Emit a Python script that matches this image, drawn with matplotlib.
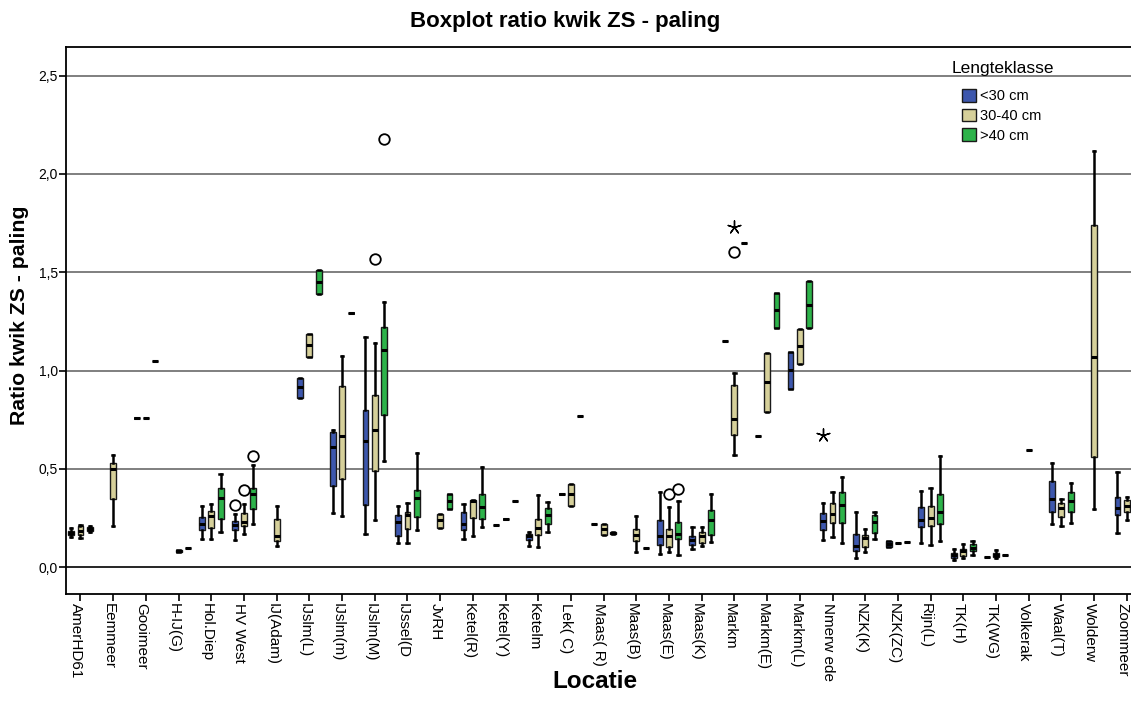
import numpy as np
import matplotlib
matplotlib.use("Agg")
import matplotlib.pyplot as plt
import matplotlib.transforms as mtransforms
from matplotlib.patches import Patch

plt.rcParams['font.family'] = ['Liberation Sans', 'DejaVu Sans']

locations = ["AmerHD61", "Eemmeer", "Gooimeer", "H-IJ(G)", "Hol.Diep", "HV West",
             "IJ(Adam)", "IJslm(L)", "IJslm(m)", "IJslm(M)", "IJssel(D", "JvRH",
             "Ketel(R)", "Ketel(Y)", "Ketelm", "Lek( C)", "Maas( R)", "Maas(B)",
             "Maas(E)", "Maas(K)", "Markm", "Markm(E)", "Markm(L)", "Nmerw ede",
             "NZK(K)", "NZK(ZC)", "Rijn(L)", "TK(H)", "TK(WG)", "Volkerak",
             "Waal(T)", "Wolderw", "Zoommeer"]
classes = ["<30 cm", "30-40 cm", ">40 cm"]
class_colors = ["#3d57ad", "#d6d09a", "#2db34a"]

N = np.nan
# length class < 30 cm
lt30_q1  = [.163, N, .757, N, .191, .188, N, .862, .415, .317, .159, N, .188, .217, .137, .374, .219, N, .115, .112, 1.149, .668, .906, .188, .084, .102, .203, .046, .054, N, .281, N, .266]
lt30_med = [.176, N, .757, N, .220, .214, N, .915, .613, .644, .229, N, .220, .217, .161, .374, .219, N, .158, .139, 1.149, .668, 1.002, .237, .110, .120, .239, .063, .054, N, .349, N, .301]
lt30_q3  = [.186, N, .757, N, .254, .235, N, .964, .688, .800, .264, N, .280, .217, .171, .374, .219, N, .240, .159, 1.149, .668, 1.096, .278, .169, .135, .307, .074, .054, N, .440, N, .357]
lt30_lo  = [.154, N, N, N, .144, .139, N, N, .276, .169, .125, N, .144, N, .107, N, N, N, .069, .093, N, N, N, .139, .049, N, .125, .039, N, N, .220, N, .176]
lt30_hi  = [.201, N, N, N, .313, .273, N, N, .696, 1.172, .312, N, .323, N, .179, N, N, N, .384, .206, N, N, N, .325, .283, N, .389, .093, N, N, .532, N, .486]

# length class 30-40 cm
mid_q1  = [.163, .349, .757, .080, .201, .210, .132, 1.069, .449, .488, .197, .201, .249, .244, .163, .312, .163, .132, .103, .122, .674, .790, 1.034, .225, .102, .125, .208, .056, .051, .598, .257, .561, .283]
mid_med = [.186, .498, .757, .085, .262, .230, .161, 1.129, .669, .696, .266, .239, .337, .244, .201, .371, .193, .166, .158, .161, .754, .942, 1.125, .269, .150, .125, .252, .081, .064, .598, .303, 1.071, .312]
mid_q3  = [.211, .529, .757, .088, .288, .275, .244, 1.186, .920, .874, .283, .272, .340, .244, .246, .423, .219, .195, .196, .181, .925, 1.091, 1.213, .328, .164, .125, .310, .092, .073, .598, .325, 1.740, .342]
mid_lo  = [.150, .208, N, N, .144, .171, .110, N, .261, .242, .125, N, .159, N, .105, N, N, .078, .076, .110, .571, N, N, .156, .079, N, .112, .049, .047, N, .211, .298, .240]
mid_hi  = [.213, .572, N, N, .323, .323, .313, N, 1.074, 1.140, .326, N, .340, N, .368, N, N, .259, .305, .206, .986, N, N, .381, .196, N, .405, .118, .086, N, .347, 2.118, .359]

# length class > 40 cm
gt40_q1  = [.186, N, 1.049, .097, .246, .295, N, 1.389, 1.294, .773, .256, .295, .244, .339, .220, .769, .168, .100, .144, .166, 1.650, 1.217, 1.217, .224, .176, .129, .222, .081, .064, N, .280, N, N]
gt40_med = [.196, N, 1.049, .097, .351, .371, N, 1.450, 1.294, 1.103, .351, .336, .307, .339, .264, .769, .173, .100, .168, .240, 1.650, 1.308, 1.334, .315, .232, .129, .283, .100, .064, N, .336, N, N]
gt40_q3  = [.206, N, 1.049, .097, .402, .402, N, 1.510, 1.294, 1.223, .395, .371, .374, .339, .300, .769, .178, .100, .230, .290, 1.650, 1.393, 1.454, .384, .266, .129, .374, .117, .064, N, .383, N, N]
gt40_lo  = [.181, N, N, N, .178, .220, N, N, N, .541, .189, N, .203, N, .181, N, N, N, .063, .130, N, N, N, .125, .144, N, .132, .064, N, N, .225, N, N]
gt40_hi  = [.208, N, N, N, .474, .520, N, N, N, 1.347, .581, N, .511, N, .334, N, N, N, .336, .373, N, N, N, .458, .283, N, .567, .134, N, N, .430, N, N]

# outliers (circles) and extreme values (stars): (location, class index, value)
outlier_loc   = ["HV West", "HV West", "HV West", "IJslm(M)", "IJslm(M)", "Maas(E)", "Maas(E)", "Markm"]
outlier_class = [0, 1, 2, 1, 2, 1, 2, 1]
outlier_val   = [.315, .395, .566, 1.566, 2.178, .371, .400, 1.604]
extreme_loc   = ["Markm", "Nmerw ede"]
extreme_class = [1, 0]
extreme_val   = [1.729, .673]

y_ticks = [0.0, 0.5, 1.0, 1.5, 2.0, 2.5]
y_tick_labels = ["0,0", "0,5", "1,0", "1,5", "2,0", "2,5"]

W, H = 1131, 713
fig = plt.figure(figsize=(W / 100, H / 100), dpi=100)
left_px, right_px, top_px, bottom_px = 66.3, 1141.0, 47.0, 594.3
ax = fig.add_axes([left_px / W, (H - bottom_px) / H,
                   (right_px - left_px) / W, (bottom_px - top_px) / H])

offsets = [-0.285, 0.0, 0.285]
box_w = 0.18

groups = [
    (lt30_q1, lt30_med, lt30_q3, lt30_lo, lt30_hi),
    (mid_q1, mid_med, mid_q3, mid_lo, mid_hi),
    (gt40_q1, gt40_med, gt40_q3, gt40_lo, gt40_hi),
]

for g, (q1s, meds, q3s, los, his) in enumerate(groups):
    stats, pos = [], []
    for i in range(len(locations)):
        if np.isnan(meds[i]):
            continue
        q1, q3 = q1s[i], q3s[i]
        lo = q1 if np.isnan(los[i]) else los[i]
        hi = q3 if np.isnan(his[i]) else his[i]
        stats.append(dict(med=meds[i], q1=q1, q3=q3, whislo=lo, whishi=hi, fliers=[]))
        pos.append(i + offsets[g])
    ax.bxp(stats, positions=pos, widths=box_w, patch_artist=True,
           showfliers=False, capwidths=0.07,
           boxprops=dict(facecolor=class_colors[g], edgecolor="#1a1a1a", linewidth=1.0),
           medianprops=dict(color="black", linewidth=2.2, solid_capstyle="butt"),
           whiskerprops=dict(color="black", linewidth=1.8),
           capprops=dict(color="black", linewidth=1.8),
           zorder=3)

loc_index = {name: i for i, name in enumerate(locations)}
ox = [loc_index[n] + offsets[c] for n, c in zip(outlier_loc, outlier_class)]
ax.scatter(ox, outlier_val, s=58, facecolors="white", edgecolors="black",
           linewidths=1.3, zorder=4)
ex = [loc_index[n] + offsets[c] for n, c in zip(extreme_loc, extreme_class)]
ax.scatter(ex, extreme_val, s=90, marker=(5, 2, 0), color="black",
           linewidths=1.0, zorder=4)

# horizontal reference lines
for yv in y_ticks:
    ax.axhline(yv, color="black" if yv == 0 else "#6a6a6a", linewidth=1.2, zorder=1)

ax.set_xlim(-0.434, len(locations) - 1 + 0.434)
ax.set_ylim(-0.137, 2.645)
ax.set_yticks(y_ticks)
ax.set_yticklabels(y_tick_labels, fontsize=10)
ax.set_xticks(range(len(locations)))
ax.set_xticklabels([])
ax.tick_params(axis="both", direction="out", length=5, width=1.2, color="black", pad=1)
for side in ("left", "bottom", "top", "right"):
    ax.spines[side].set_linewidth(1.3)
    ax.spines[side].set_color("black")

# category names, written downward and set slightly left of each tick
label_tr = ax.get_xaxis_transform() + mtransforms.ScaledTranslation(
    -4.5 / 100, -8.5 / 100, fig.dpi_scale_trans)
for i, name in enumerate(locations):
    ax.text(i, 0, name, transform=label_tr, rotation=270, fontsize=11,
            ha="center", va="top", clip_on=False)

fig.text(565.5 / W, 1 - 22 / H, "Boxplot ratio kwik ZS - paling", ha="center", va="center",
         fontsize=16, fontweight="bold")
fig.text(595 / W, 1 - 681 / H, "Locatie", ha="center", va="center",
         fontsize=17.5, fontweight="bold")
fig.text(20 / W, 1 - 315 / H, "Ratio kwik ZS - paling", ha="center", va="center",
         rotation=90, fontsize=15.3, fontweight="bold")

# legend: title as its own text, entries as a frameless legend
fig.text(1003 / W, 1 - 68 / H, "Lengteklasse", ha="center", va="center", fontsize=12.5)
handles = [Patch(facecolor=c, edgecolor="#1a1a1a", linewidth=1.0) for c in class_colors]
leg = ax.legend(handles, classes, loc="upper left",
                bbox_to_anchor=(962 / W, 1 - 89 / H), bbox_transform=fig.transFigure,
                frameon=False, fontsize=10.5,
                handlelength=0.95, handleheight=0.95, handletextpad=0.3,
                labelspacing=0.37, borderpad=0.0, borderaxespad=0.0)

fig.savefig("out.png", dpi=100)
